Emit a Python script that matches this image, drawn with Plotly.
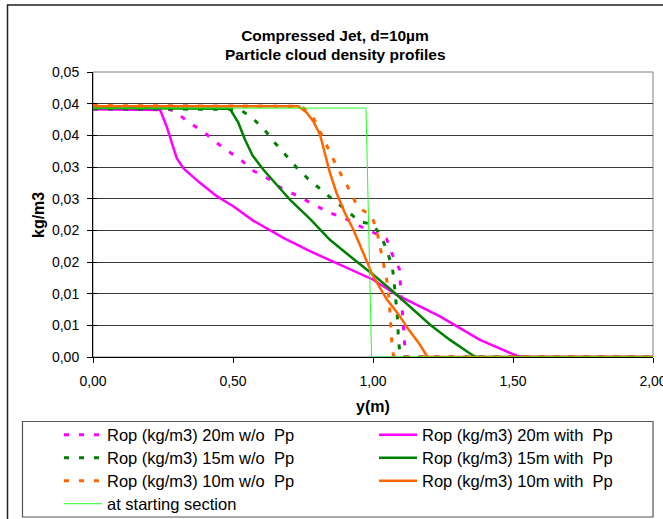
import plotly.graph_objects as go

# ---- data: radial position y (m) vs particle cloud density (kg/m3) ----
mag_dash_x = [0, 0.27, 0.293, 0.340, 0.394, 0.436, 0.483, 0.531, 0.573, 0.632, 0.674, 0.733,
              0.787, 0.844, 0.900, 0.951, 1.000, 1.049, 1.067, 1.094, 1.102, 1.114, 1.12, 2.0]
mag_dash_y = [0.0391, 0.0391, 0.0388, 0.0371, 0.0356, 0.0340, 0.0325, 0.0310, 0.0294, 0.0280, 0.0266,
              0.0254, 0.0241, 0.0228, 0.0219, 0.0207, 0.0197, 0.0186, 0.0164, 0.0139, 0.0090, 0.0014, 0, 0]

mag_solid_x = [0, 0.24, 0.263, 0.281, 0.299, 0.325, 0.382, 0.442, 0.501, 0.573, 0.68, 0.775, 0.846,
               0.918, 1.001, 1.085, 1.239, 1.382, 1.513, 1.54, 2.0]
mag_solid_y = [0.0391, 0.0390, 0.0364, 0.0338, 0.0314, 0.0297, 0.0275, 0.0254, 0.0238, 0.0215, 0.0188,
               0.0167, 0.0153, 0.0138, 0.0122, 0.0098, 0.0064, 0.0027, 0.0002, 0, 0]

grn_dash_x = [0, 0.525, 0.5725, 0.614, 0.65, 0.689, 0.7275, 0.769, 0.813, 0.858, 0.908, 0.951, 1.001,
              1.031, 1.0525, 1.070, 1.076, 1.082, 1.087, 1.090, 1.094, 1.10, 2.0]
grn_dash_y = [0.0392, 0.0391, 0.0376, 0.0358, 0.0338, 0.0318, 0.0299, 0.0281, 0.0264, 0.0248, 0.0231,
              0.0214, 0.0209, 0.0189, 0.0165, 0.0139, 0.0116, 0.0090, 0.0064, 0.0037, 0.0014, 0, 0]

grn_solid_x = [0, 0.489, 0.519, 0.543, 0.570, 0.608, 0.656, 0.704, 0.775, 0.811, 0.846, 0.918, 1.001,
               1.0725, 1.132, 1.204, 1.275, 1.358, 1.37, 2.0]
grn_solid_y = [0.0393, 0.0392, 0.0370, 0.0343, 0.0318, 0.0296, 0.0272, 0.0248, 0.0218, 0.0201, 0.0185,
               0.0159, 0.0130, 0.0103, 0.0080, 0.0051, 0.0027, 0.0002, 0, 0]

org_dash_x = [0, 0.745, 0.787, 0.811, 0.840, 0.864, 0.892, 0.918, 0.945, 0.995, 1.013, 1.025, 1.037,
              1.049, 1.058, 1.063, 1.067, 1.0725, 1.08, 2.0]
org_dash_y = [0.0397, 0.0396, 0.0378, 0.0355, 0.0329, 0.0307, 0.0283, 0.0262, 0.0237, 0.0223, 0.0201,
              0.0176, 0.0151, 0.0122, 0.0090, 0.0048, 0.0024, 0.0003, 0, 0]

org_solid_x = [0, 0.733, 0.763, 0.787, 0.811, 0.829, 0.846, 0.870, 0.900, 0.930, 0.9775, 1.0, 1.049,
               1.090, 1.126, 1.162, 1.192, 1.20, 2.0]
org_solid_y = [0.0396, 0.0396, 0.0386, 0.0372, 0.0351, 0.0322, 0.0291, 0.0259, 0.0227, 0.0201, 0.0151,
               0.0128, 0.0091, 0.0068, 0.0044, 0.0023, 0.0002, 0, 0]

start_x = [0, 0.975, 0.995, 2.0]
start_y = [0.0393, 0.0393, 0, 0]

x_tick_vals = [0, 0.5, 1.0, 1.5, 2.0]
x_tick_text = ["0,00", "0,50", "1,00", "1,50", "2,00"]
y_tick_vals = [0, 0.005, 0.01, 0.015, 0.02, 0.025, 0.03, 0.035, 0.04, 0.045]
y_tick_text = ["0,00", "0,01", "0,01", "0,02", "0,02", "0,03", "0,03", "0,04", "0,04", "0,05"]

MAGENTA = "#FF00FF"
GREEN = "#008000"
ORANGE = "#FF6600"
LIME = "#22FF22"
DASH = "5px,10px"
FONT = "Liberation Sans, Arial, sans-serif"
NB = "\u00a0"

# (legend label, x, y, colour, width, dash, legend row)
series = [
    ("Rop (kg/m3) 20m w/o " + NB + "Pp", mag_dash_x, mag_dash_y, MAGENTA, 3, DASH, "legend"),
    ("Rop (kg/m3) 20m with " + NB + "Pp", mag_solid_x, mag_solid_y, MAGENTA, 2.5, "solid", "legend"),
    ("Rop (kg/m3) 15m w/o " + NB + "Pp", grn_dash_x, grn_dash_y, GREEN, 3, DASH, "legend2"),
    ("Rop (kg/m3) 15m with " + NB + "Pp", grn_solid_x, grn_solid_y, GREEN, 2.5, "solid", "legend2"),
    ("Rop (kg/m3) 10m w/o " + NB + "Pp", org_dash_x, org_dash_y, ORANGE, 3, DASH, "legend3"),
    ("Rop (kg/m3) 10m with " + NB + "Pp", org_solid_x, org_solid_y, ORANGE, 2.5, "solid", "legend3"),
    ("at starting section", start_x, start_y, LIME, 1, "solid", "legend4"),
]

fig = go.Figure()
for name, xs, ys, color, width, dash, leg in series:
    fig.add_trace(go.Scatter(
        x=xs, y=ys, name=name, mode="lines", legend=leg,
        line=dict(color=color, width=width, dash=dash),
        hoverinfo="x+y+name",
    ))

# invisible trace on a twin axis to get tick marks crossing the y axis
fig.add_trace(go.Scatter(x=[0], y=[0], yaxis="y2", mode="markers",
                         marker=dict(opacity=0), showlegend=False, hoverinfo="skip"))

W, H = 663, 519
L, R, T, B = 93, 10, 72, 162
pw, ph = W - L - R, H - T - B


def px_x(p):
    return (p - L) / pw


def px_y(p):
    return (H - B - p) / ph


def legend_row(center_y):
    return dict(
        orientation="h", x=px_x(59), y=px_y(center_y), xanchor="left", yanchor="middle",
        entrywidth=262, entrywidthmode="pixels", itemwidth=38,
        font=dict(family=FONT, size=16.5, color="black"),
        bgcolor="rgba(0,0,0,0)", borderwidth=0, traceorder="normal",
    )


fig.update_layout(
    width=W, height=H,
    margin=dict(l=L, r=R, t=T, b=B, autoexpand=False),
    paper_bgcolor="white", plot_bgcolor="white",
    font=dict(family=FONT, size=14, color="black"),
    title=dict(
        text="<b>Compressed Jet, d=10µm</b>",
        x=335 / W, xref="container", xanchor="center",
        y=1 - 36 / H, yref="container", yanchor="middle",
        font=dict(family=FONT, size=15.5, color="black"),
    ),
    xaxis=dict(
        range=[0, 2], tickvals=x_tick_vals, ticktext=x_tick_text,
        showline=True, linecolor="black", linewidth=1,
        ticks="outside", ticklen=5, tickcolor="black",
        showgrid=False, zeroline=False, ticklabelstandoff=6,
        ticklabeloverflow="allow",
        tickfont=dict(family=FONT, size=14, color="black"),
    ),
    yaxis=dict(
        range=[0, 0.045], tickvals=y_tick_vals, ticktext=y_tick_text,
        showline=True, linecolor="black", linewidth=1,
        ticks="outside", ticklen=5, tickcolor="black",
        showgrid=True, gridcolor="#3a3a3a", gridwidth=1, zeroline=False,
        ticklabelstandoff=5, ticklabeloverflow="allow",
        tickfont=dict(family=FONT, size=14, color="black"),
    ),
    yaxis2=dict(
        range=[0, 0.045], tickvals=y_tick_vals, overlaying="y", side="left",
        showticklabels=False, ticks="inside", ticklen=4, tickcolor="black",
        showgrid=False, zeroline=False, showline=False,
    ),
    showlegend=True,
    legend=legend_row(435),
    legend2=legend_row(458),
    legend3=legend_row(481),
    legend4=legend_row(504),
    annotations=[
        dict(text="<b>Particle cloud density profiles</b>", x=px_x(335), y=px_y(54),
             xref="paper", yref="paper", showarrow=False,
             font=dict(family=FONT, size=15.5, color="black"),
             xanchor="center", yanchor="middle"),
        dict(text="<b>y(m)</b>", x=px_x(373), y=px_y(406), xref="paper", yref="paper",
             showarrow=False, font=dict(family=FONT, size=16, color="black"),
             xanchor="center", yanchor="middle"),
        dict(text="<b>kg/m3</b>", x=px_x(38), y=px_y(215), xref="paper", yref="paper",
             showarrow=False, textangle=-90, font=dict(family=FONT, size=16, color="black"),
             xanchor="center", yanchor="middle"),
    ],
    shapes=[
        # plot area frame
        dict(type="rect", xref="paper", yref="paper", x0=0, y0=0, x1=1, y1=1,
             line=dict(color="#808080", width=1), layer="below"),
        # legend frame
        dict(type="rect", xref="paper", yref="paper",
             x0=px_x(22.5), x1=px_x(653), y0=px_y(421.5), y1=px_y(517),
             line=dict(color="#555555", width=1.2)),
        # chart area frame
        dict(type="rect", xref="paper", yref="paper",
             x0=px_x(7.5), x1=px_x(700), y0=px_y(5), y1=px_y(560),
             line=dict(color="#222222", width=1.5)),
    ],
)

fig.write_html("out.html")
